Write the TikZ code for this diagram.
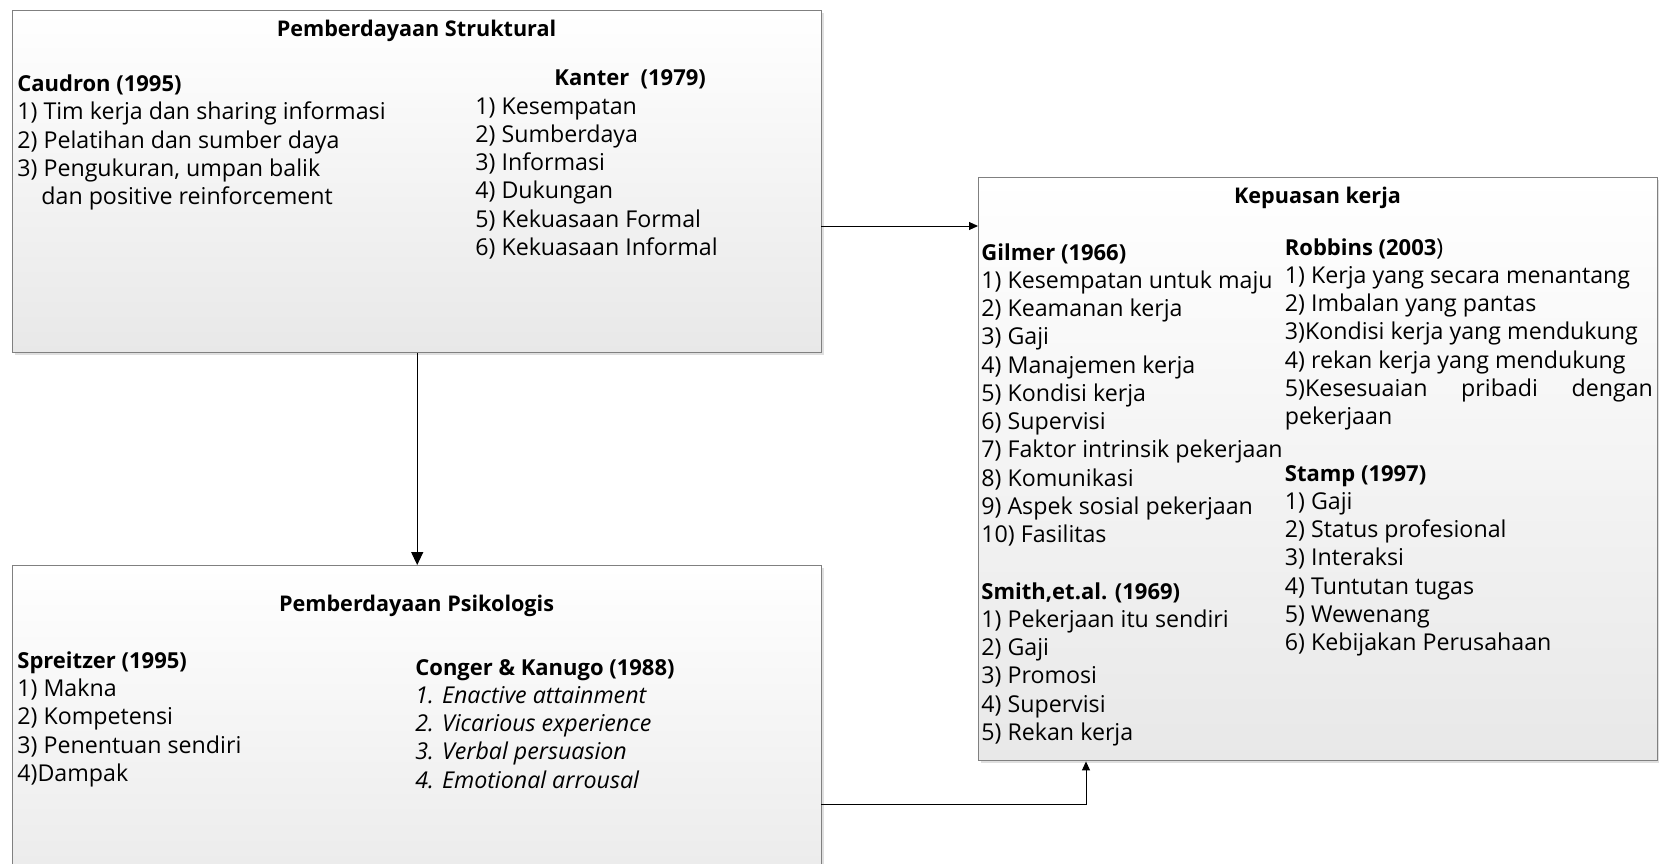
\documentclass[tikz,border=0pt]{standalone}
\usepackage{fontspec}
\setmainfont{Open Sans}
\usetikzlibrary{arrows.meta,shadows,calc}

\tikzset{
  kotak/.style={draw=black!50, line width=0.7pt, top color=white, bottom color=black!9,
    anchor=north west, inner sep=0pt,
    drop shadow={shadow xshift=1pt, shadow yshift=-1pt, opacity=0.25}},
  judul/.style={font=\bfseries\fontsize{10.8}{13}\selectfont, anchor=base, inner sep=0pt},
  isi/.style={font=\fontsize{11.6}{14.12}\selectfont, align=left, anchor=north west, inner sep=0pt},
  panah/.style={-{Triangle[length=4.5pt,width=4pt]}, line width=0.5pt},
  panahbesar/.style={-{Triangle[length=6.5pt,width=6pt]}, line width=0.6pt},
}
\newcommand{\hd}[1]{{\bfseries\fontsize{11}{14.12}\selectfont\strut #1}}

\begin{document}
\begin{tikzpicture}[x=0.5pt,y=-0.5pt]
\useasboundingbox (0,0) rectangle (1659,863);
\clip (0,0) rectangle (1659,863);

% kotak
\node[kotak, minimum width=404.5pt, minimum height=171pt] (struktural) at (12,10) {};
\node[kotak, minimum width=339.5pt, minimum height=291.5pt] (kepuasan) at (978,177) {};
\node[kotak, minimum width=404.5pt, minimum height=180pt] (psikologis) at (12,565) {};

% pemberdayaan struktural
\node[judul] (t-struk) at (416.5,36) {Pemberdayaan Struktural};
\node[isi] (caudron) at (17,71.5) {\hd{Caudron (1995)}\\
  1) Tim kerja dan sharing informasi\\
  2) Pelatihan dan sumber daya\\
  3) Pengukuran, umpan balik\\
  \hspace*{12pt}dan positive reinforcement};
\node[isi] (kanter) at (475,65.7) {\hspace*{39.5pt}\hd{Kanter~~(1979)}\\
  1) Kesempatan\\
  2) Sumberdaya\\
  3) Informasi\\
  4) Dukungan\\
  5) Kekuasaan Formal\\
  6) Kekuasaan Informal};

% kepuasan kerja
\node[judul] (t-kep) at (1317.5,203) {Kepuasan kerja};
\node[isi] (gilmer) at (981,240) {\hd{Gilmer (1966)}\\
  1) Kesempatan untuk maju\\
  2) Keamanan kerja\\
  3) Gaji\\
  4) Manajemen kerja\\
  5) Kondisi kerja\\
  6) Supervisi\\
  7) Faktor intrinsik pekerjaan\\
  8) Komunikasi\\
  9) Aspek sosial pekerjaan\\
  10) Fasilitas\\[14.12pt]
  \hd{Smith,et.al. (1969)}\\
  1) Pekerjaan itu sendiri\\
  2) Gaji\\
  3) Promosi\\
  4) Supervisi\\
  5) Rekan kerja};
\node[isi] (robbins) at (1284.5,235) {\hd{Robbins (2003})\\
  1) Kerja yang secara menantang\\
  2) Imbalan yang pantas\\
  3)Kondisi kerja yang mendukung\\
  4) rekan kerja yang mendukung\\
  \hbox to 184pt{5)Kesesuaian\hfill pribadi\hfill dengan}\\
  pekerjaan\\[14.12pt]
  \hd{Stamp (1997)}\\
  1) Gaji\\
  2) Status profesional\\
  3) Interaksi\\
  4) Tuntutan tugas\\
  5) Wewenang\\
  6) Kebijakan Perusahaan};

% pemberdayaan psikologis
\node[judul] (t-psi) at (416.5,611) {Pemberdayaan Psikologis};
\node[isi] (spreitzer) at (17,648.2) {\hd{Spreitzer (1995)}\\
  1) Makna\\
  2) Kompetensi\\
  3) Penentuan sendiri\\
  4)Dampak};
\node[isi] (conger) at (415,654.9) {\hd{Conger \& Kanugo (1988)}\\
  \itshape 1. Enactive attainment\\
  \itshape 2. Vicarious experience\\
  \itshape 3. Verbal persuasion\\
  \itshape 4. Emotional arrousal};

% panah
\coordinate (p1) at (821,226);
\draw[panah] (p1) -- (p1 -| kepuasan.west);
\draw[panahbesar] (struktural.south) -- (psikologis.north);
\coordinate (p3) at (821,804);
\draw[panah] (p3) -| ([xshift=54pt]kepuasan.south west);

\end{tikzpicture}
\end{document}
